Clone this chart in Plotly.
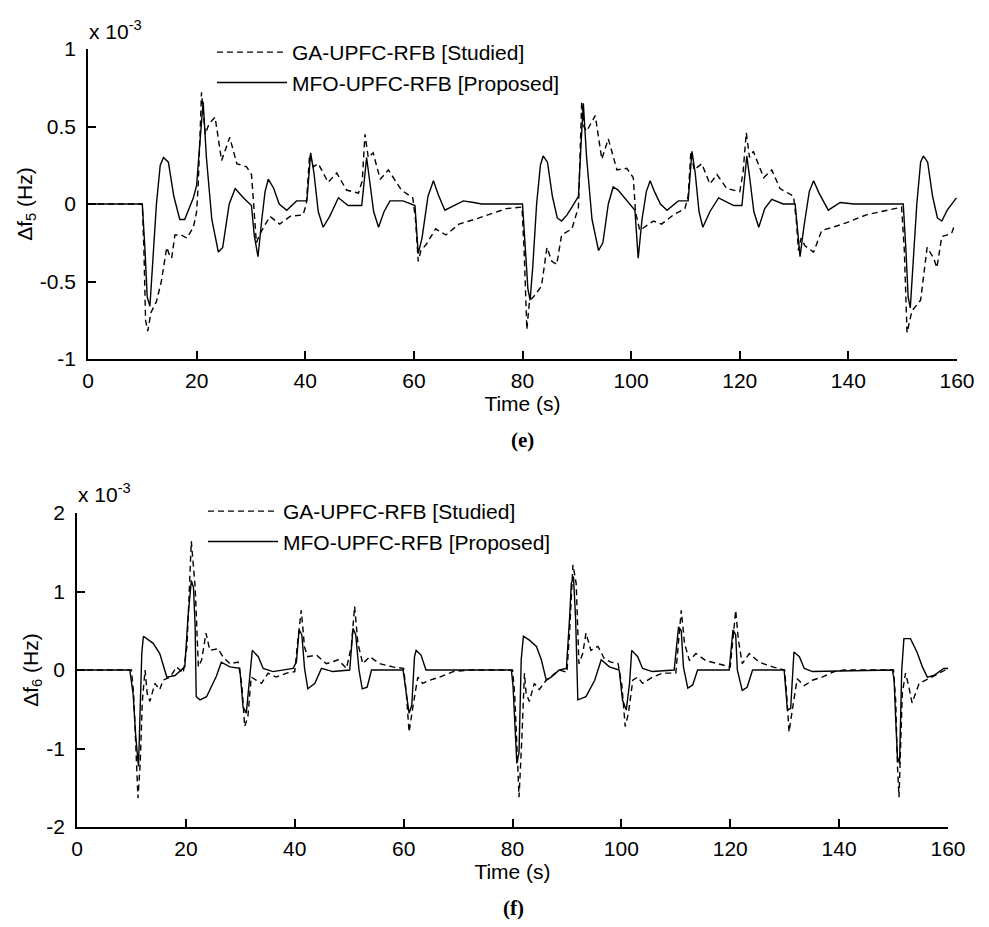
import plotly.graph_objects as go

# ---------------- data (values in units of 1e-3 Hz) ----------------
t_ga5 = [0, 10.0, 10.3, 10.6, 11.0, 11.6, 12.6, 13.5, 14.5, 15.0, 15.4, 16.0, 17.2, 18.2, 19.4, 20.0, 20.3, 20.9,
         21.6, 22.3, 23.4, 24.6, 26.1, 27.4, 29.2, 30.1, 30.5, 31.0, 31.7, 33.5, 35.3, 37.2, 39.6, 40.2, 40.8, 41.5,
         42.4, 44.2, 45.8, 47.6, 49.8, 50.5, 51.0, 51.6, 52.5, 53.8, 55.3, 57.7, 59.8, 60.3, 60.8, 61.3, 62.3, 64.0,
         65.9, 68.3, 72.0, 77.0, 79.9, 80.3, 80.8, 81.3, 82.0, 83.5, 84.5, 85.4, 86.3, 87.2, 89.1, 90.3, 90.9, 91.3,
         91.8, 93.4, 94.6, 95.8, 97.4, 99.2, 100.4, 100.8, 101.6, 104.1, 105.6, 107.8, 109.9, 110.5, 111.0, 111.6,
         113.0, 114.5, 115.8, 117.6, 120.0, 120.6, 121.2, 121.8, 122.5, 124.4, 125.9, 127.4, 129.9, 130.4, 130.8,
         131.3, 132.0, 133.6, 135.1, 137.2, 139.7, 143.3, 149.8, 150.3, 150.8, 151.7, 153.3, 154.5, 155.7, 156.3,
         157.2, 159.0, 159.5]
v_ga5 = [0, 0, -0.3, -0.75, -0.82, -0.7, -0.63, -0.50, -0.28, -0.33, -0.35, -0.20, -0.20, -0.22, -0.15, -0.05, 0.13, 0.72,
         0.45, 0.52, 0.56, 0.28, 0.43, 0.26, 0.24, 0.19, 0.0, -0.25, -0.19, -0.08, -0.13, -0.08, -0.07, 0.0, 0.32, 0.24,
         0.26, 0.14, 0.20, 0.09, 0.07, 0.15, 0.45, 0.30, 0.33, 0.16, 0.22, 0.09, 0.04, -0.1, -0.37, -0.30, -0.26, -0.16,
         -0.20, -0.13, -0.09, -0.03, -0.02, -0.3, -0.81, -0.62, -0.60, -0.53, -0.28, -0.37, -0.39, -0.20, -0.16, -0.02, 0.66, 0.50,
         0.47, 0.57, 0.29, 0.42, 0.22, 0.23, 0.17, -0.05, -0.17, -0.11, -0.13, -0.07, -0.03, 0.05, 0.34, 0.22,
         0.26, 0.13, 0.19, 0.10, 0.08, 0.2, 0.46, 0.30, 0.34, 0.17, 0.22, 0.10, 0.05, -0.1, -0.30,
         -0.22, -0.27, -0.31, -0.17, -0.15, -0.12, -0.07, -0.02, -0.3, -0.83, -0.69, -0.62, -0.28, -0.35, -0.41,
         -0.21, -0.19, -0.14]

t_mfo5 = [0, 10.0, 10.5, 10.9, 11.4, 11.9, 12.6, 13.3, 13.9, 14.8, 15.8, 16.9, 17.8, 19.4, 20.0, 20.5, 21.2, 21.8,
          22.8, 24.0, 24.8, 26.0, 27.1, 28.6, 30.1, 30.6, 31.3, 32.0, 32.6, 33.2, 34.2, 35.2, 36.6, 38.4, 40.3, 41.0,
          41.6, 42.4, 43.3, 44.5, 46.1, 47.9, 50.4, 51.3, 51.9, 52.6, 53.5, 54.5, 55.6, 58.0, 60.2, 60.8, 61.5, 62.6,
          63.6, 64.5, 65.7, 67.5, 69.1, 71.0, 72.5, 80.0, 80.5, 81.0, 81.4, 81.9, 82.6, 83.3, 83.8, 84.6, 85.5, 86.4,
          87.2, 88.2, 89.1, 90.3, 90.8, 91.2, 91.8, 92.8, 94.0, 94.8, 95.8, 96.7, 97.6, 98.6, 100.7, 101.3, 102.0,
          102.8, 103.5, 104.3, 105.4, 106.6, 108.7, 110.5, 111.2, 111.8, 112.5, 113.2, 114.5, 116.1, 118.9, 120.4,
          121.3, 121.9, 122.6, 123.5, 124.6, 125.9, 128.0, 130.2, 131.1, 131.8, 132.8, 133.6, 134.6, 136.3, 138.5,
          141.0, 150.1, 150.6, 151.0, 151.4, 151.9, 152.6, 153.3, 153.8, 154.6, 155.5, 156.4, 157.2, 158.2, 159.9]
v_mfo5 = [0, 0, -0.3, -0.6, -0.66, -0.4, 0.0, 0.25, 0.30, 0.27, 0.05, -0.10, -0.10, 0.04, 0.12, 0.35, 0.66, 0.3,
          -0.1, -0.31, -0.28, 0.0, 0.10, 0.04, -0.01, -0.2, -0.34, -0.1, 0.08, 0.16, 0.10, 0.0, -0.04, 0.02, 0.02, 0.33,
          0.2, -0.05, -0.15, -0.08, 0.04, -0.01, -0.01, 0.30, 0.15, -0.05, -0.15, -0.05, 0.02, 0.02, -0.01, -0.32, -0.22, 0.05,
          0.15, 0.06, -0.04, -0.01, 0.02, 0.01, 0.0, 0, -0.3, -0.55, -0.62, -0.4, 0.0, 0.25, 0.31, 0.27, 0.05, -0.09,
          -0.11, -0.07, -0.02, 0.05, 0.4, 0.65, 0.3, -0.1, -0.30, -0.25, 0.0, 0.11, 0.09, 0.05, -0.04, -0.35, -0.1,
          0.08, 0.15, 0.08, 0.0, -0.04, 0.02, 0.02, 0.34, 0.2, -0.05, -0.15, -0.05, 0.04, -0.01, -0.01,
          0.31, 0.15, -0.05, -0.15, -0.03, 0.03, 0.0, 0.0, -0.34, -0.15, 0.08, 0.15, 0.07, -0.04, 0.01,
          0, 0, -0.3, -0.6, -0.67, -0.4, 0.0, 0.27, 0.31, 0.27, 0.05, -0.09, -0.11, -0.04, 0.04]

t_ga6 = [0, 10.0, 10.4, 10.8, 11.2, 11.6, 12.0, 12.5, 12.9, 13.4, 14.3, 15.2, 15.8, 17.1, 18.3, 19.5, 20.2, 21.0, 21.7,
         22.3, 22.9, 23.7, 24.4, 25.9, 26.8, 28.1, 29.6, 30.3, 30.8, 31.4, 32.0, 32.9, 33.9, 35.1, 36.6, 38.5, 40.0,
         40.6, 41.2, 41.8, 42.4, 44.0, 45.8, 48.0, 49.5, 50.4, 51.0, 51.6, 52.5, 53.8, 55.6, 58.0, 60.0, 60.5, 61.0,
         61.7, 62.6, 63.5, 64.8, 66.6, 69.1, 72.1, 80.0, 80.4, 80.8, 81.2, 81.7, 82.2, 82.5, 83.1, 84.0, 84.9, 86.2,
         87.4, 88.6, 90.0, 90.5, 91.1, 91.7, 92.2, 92.9, 93.5, 94.4, 95.7, 96.9, 98.1, 99.4, 100.1, 100.7, 101.3,
         102.1, 103.0, 103.9, 105.7, 107.6, 110.0, 110.5, 111.0, 111.6, 112.5, 113.7, 115.5, 117.7, 120.0, 120.5,
         121.0, 121.5, 122.2, 123.5, 125.3, 127.8, 130.0, 130.4, 130.8, 131.4, 132.3, 133.6, 135.1, 136.9, 139.1,
         140.9, 150.0, 150.4, 150.7, 151.0, 151.6, 152.2, 152.8, 153.4, 154.7, 155.9, 157.1, 158.6, 159.5]
v_ga6 = [0, 0, -0.3, -1.0, -1.63, -1.2, -0.4, 0.0, -0.30, -0.40, -0.17, -0.25, -0.13, -0.09, 0.04, -0.04, 0.3, 1.64, 1.06,
         0.04, 0.13, 0.47, 0.25, 0.27, 0.17, 0.08, 0.10, -0.2, -0.72, -0.59, -0.09, -0.13, -0.17, -0.04, -0.09, -0.04, -0.02,
         0.4, 0.76, 0.29, 0.17, 0.19, 0.08, 0.13, 0.02, 0.3, 0.81, 0.34, 0.08, 0.17, 0.08, 0.04, 0.02, -0.3, -0.79,
         -0.47, -0.09, -0.17, -0.13, -0.09, -0.02, 0, 0, -0.3, -1.0, -1.62, -0.9, -0.04, -0.30, -0.40, -0.17, -0.25, -0.13,
         -0.06, 0.0, -0.03, 0.5, 1.34, 1.10, 0.08, 0.21, 0.47, 0.25, 0.30, 0.14, 0.10, 0.08, -0.2, -0.72, -0.55,
         -0.13, -0.09, -0.17, -0.09, -0.04, -0.04, 0.35, 0.76, 0.34, 0.12, 0.21, 0.12, 0.08, 0.04, 0.4,
         0.76, 0.38, 0.08, 0.21, 0.10, 0.04, 0.0, -0.35, -0.79, -0.51, -0.11, -0.20, -0.13, -0.09, -0.02,
         0, 0, -0.4, -1.2, -1.62, -0.30, -0.04, -0.21, -0.42, -0.17, -0.13, -0.09, -0.04, 0.0]

t_mfo6 = [0, 9.7, 10.3, 10.8, 11.3, 11.6, 11.9, 12.2, 14.0, 15.2, 16.5, 18.0, 19.8, 20.4, 21.0, 21.4, 21.7, 21.9, 22.6,
          23.8, 25.6, 26.5, 28.1, 29.9, 30.5, 31.1, 31.7, 32.2, 33.3, 34.2, 36.0, 39.7, 40.3, 40.8, 41.3, 41.8, 42.4,
          43.7, 44.9, 47.0, 50.1, 50.7, 51.2, 51.8, 52.4, 53.3, 54.1, 59.9, 60.5, 61.0, 61.5, 62.0, 62.3, 63.2, 64.1,
          79.8, 80.1, 80.4, 80.8, 81.2, 81.6, 82.0, 83.1, 84.4, 85.3, 86.2, 87.1, 88.6, 89.9, 90.5, 90.8, 91.2, 91.6,
          92.0, 93.5, 95.1, 96.3, 97.8, 99.6, 100.2, 100.9, 101.5, 101.9, 103.0, 103.9, 105.7, 109.7, 110.5, 111.0,
          111.4, 112.2, 113.1, 114.0, 119.8, 120.5, 121.0, 121.3, 122.2, 123.1, 124.1, 129.9, 130.5, 131.1, 131.7,
          132.7, 133.6, 135.1, 149.8, 150.1, 150.4, 150.7, 151.1, 151.5, 151.9, 153.1, 154.3, 155.3, 156.2, 157.4,
          159.2, 160.0]
v_mfo6 = [0, 0, -0.30, -0.85, -1.23, -0.6, 0.21, 0.43, 0.34, 0.21, -0.09, -0.07, 0.04, 0.68, 1.14, 1.05, 0.55, -0.34, -0.38,
          -0.34, -0.08, 0.10, 0.04, 0.02, -0.47, -0.55, -0.09, 0.25, 0.17, 0.02, -0.02, 0.02, 0.1, 0.51, 0.45, 0.02, -0.24,
          -0.17, 0.02, -0.02, 0.0, 0.53, 0.45, 0.0, -0.24, -0.22, 0.0, 0.0, -0.30, -0.55, -0.45, 0.17, 0.25, 0.19, 0.0,
          0.0, -0.21, -0.72, -1.19, -1.05, 0.13, 0.43, 0.38, 0.30, 0.13, -0.13, -0.09, 0.0, 0.02, 0.68, 1.10, 1.19, 0.64,
          -0.38, -0.34, -0.13, 0.13, 0.04, 0.0, -0.38, -0.51, -0.17, 0.25, 0.17, 0.02, -0.02, 0.0, 0.55, 0.5,
          0.04, -0.23, -0.19, 0.0, 0.0, 0.51, 0.45, 0.0, -0.26, -0.22, 0.0, 0.0, -0.51, -0.49, 0.23,
          0.17, 0.02, -0.02, 0.0, -0.13, -0.64, -1.10, -1.19, 0.0, 0.40, 0.40, 0.23, 0.04, -0.09, -0.07,
          0.02, 0.02]

x_ticks = [0, 20, 40, 60, 80, 100, 120, 140, 160]
y5_ticks = [-1, -0.5, 0, 0.5, 1]
y5_ticktext = ["-1", "-0.5", "0", "0.5", "1"]
y6_ticks = [-2, -1, 0, 1, 2]
y6_ticktext = ["-2", "-1", "0", "1", "2"]
series_names = ["GA-UPFC-RFB [Studied]", "MFO-UPFC-RFB [Proposed]"]

W, H = 989, 927
FONT = "Liberation Sans, Arial, sans-serif"
FS = 21

fig = go.Figure()
dash_style = dict(color="black", width=1.4, dash="6px,4px")
solid_style = dict(color="black", width=1.4)

fig.add_trace(go.Scatter(x=t_ga5, y=v_ga5, mode="lines", line=dash_style, name=series_names[0],
                         xaxis="x", yaxis="y", legend="legend"))
fig.add_trace(go.Scatter(x=t_mfo5, y=v_mfo5, mode="lines", line=solid_style, name=series_names[1],
                         xaxis="x", yaxis="y", legend="legend"))
fig.add_trace(go.Scatter(x=t_ga6, y=v_ga6, mode="lines", line=dash_style, name=series_names[0],
                         xaxis="x2", yaxis="y2", legend="legend2"))
fig.add_trace(go.Scatter(x=t_mfo6, y=v_mfo6, mode="lines", line=solid_style, name=series_names[1],
                         xaxis="x2", yaxis="y2", legend="legend2"))

axis_common = dict(showline=True, linecolor="black", linewidth=1.5, ticks="inside", ticklen=8,
                   tickwidth=1.5, tickcolor="black", showgrid=False, zeroline=False, mirror=False,
                   automargin=False, tickfont=dict(family=FONT, size=FS, color="black"))

fig.update_layout(
    template="none",
    width=W, height=H, margin=dict(l=0, r=0, t=0, b=0, pad=0), autosize=False,
    paper_bgcolor="white", plot_bgcolor="white",
    font=dict(family=FONT, size=FS, color="black"),
    xaxis=dict(domain=[88 / W, 957 / W], range=[0, 160], tickvals=x_ticks, anchor="y",
               title=dict(text="Time (s)", standoff=0, font=dict(family=FONT, size=FS)),
               ticklabelstandoff=2, **axis_common),
    yaxis=dict(domain=[1 - 359 / H, 1 - 49 / H], range=[-1, 1], tickvals=y5_ticks, ticktext=y5_ticktext,
               anchor="x", title=dict(text="Δf<sub>5</sub> (Hz)", standoff=2, font=dict(family=FONT, size=FS)),
               ticklabelstandoff=6, **axis_common),
    xaxis2=dict(domain=[77 / W, 948 / W], range=[0, 160], tickvals=x_ticks, anchor="y2",
                title=dict(text="Time (s)", standoff=0, font=dict(family=FONT, size=FS)),
                ticklabelstandoff=2, **axis_common),
    yaxis2=dict(domain=[1 - 827 / H, 1 - 513 / H], range=[-2, 2], tickvals=y6_ticks, ticktext=y6_ticktext,
                anchor="x2", title=dict(text="Δf<sub>6</sub> (Hz)", standoff=2, font=dict(family=FONT, size=FS)),
                ticklabelstandoff=6, **axis_common),
    legend=dict(x=212 / W, y=1 - 32 / H, xanchor="left", yanchor="top", bgcolor="rgba(0,0,0,0)",
                borderwidth=0, itemwidth=70, font=dict(family=FONT, size=21), tracegroupgap=0),
    legend2=dict(x=203 / W, y=1 - 491 / H, xanchor="left", yanchor="top", bgcolor="rgba(0,0,0,0)",
                 borderwidth=0, itemwidth=70, font=dict(family=FONT, size=21), tracegroupgap=0),
    showlegend=True,
)

fig.add_annotation(text="x 10<sup>-3</sup>", xref="paper", yref="paper", x=87 / W, y=1 - 30 / H,
                   xanchor="left", yanchor="middle", showarrow=False, font=dict(family=FONT, size=21))
fig.add_annotation(text="x 10<sup>-3</sup>", xref="paper", yref="paper", x=76 / W, y=1 - 493 / H,
                   xanchor="left", yanchor="middle", showarrow=False, font=dict(family=FONT, size=21))
fig.add_annotation(text="<b>(e)</b>", xref="paper", yref="paper", x=522 / W, y=1 - 440 / H,
                   xanchor="center", yanchor="middle", showarrow=False,
                   font=dict(family="Liberation Serif, Times New Roman, serif", size=21))
fig.add_annotation(text="<b>(f)</b>", xref="paper", yref="paper", x=513 / W, y=1 - 908 / H,
                   xanchor="center", yanchor="middle", showarrow=False,
                   font=dict(family="Liberation Serif, Times New Roman, serif", size=21))

fig.write_html("out.html", config={"displayModeBar": False},
               post_script="document.body.style.margin='0';document.body.style.overflow='hidden';")
